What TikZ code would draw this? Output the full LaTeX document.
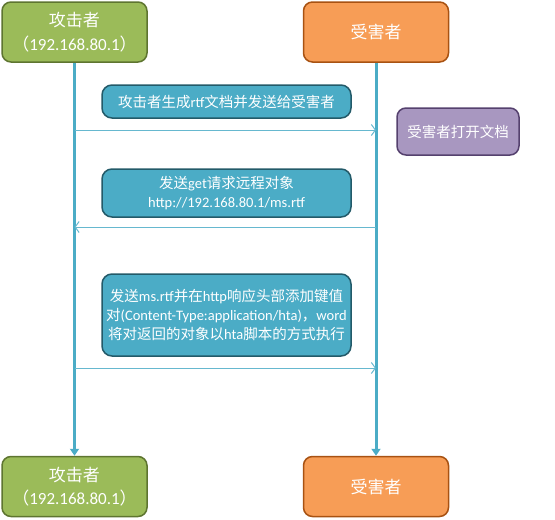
\documentclass[tikz,border=0pt]{standalone}
\usepackage{fontspec}
\setmainfont{Noto Sans CJK SC}
\newfontfamily\calfont{Carlito}
\usetikzlibrary{arrows.meta,positioning}
\definecolor{atkgreen}{RGB}{155,187,89}
\definecolor{atkborder}{RGB}{94,117,48}
\definecolor{vicorange}{RGB}{247,157,86}
\definecolor{vicborder}{RGB}{168,82,18}
\definecolor{msgteal}{RGB}{75,172,198}
\definecolor{msgborder}{RGB}{35,90,105}
\definecolor{openpurple}{RGB}{168,151,192}
\definecolor{openborder}{RGB}{85,65,110}
\tikzset{
  actorbox/.style={rectangle, rounded corners=9pt, line width=1.5pt, minimum width=145pt, minimum height=60pt, text=white, font=\fontsize{17}{23.6}\selectfont, align=center},
  msgbox/.style={rectangle, rounded corners=10pt, draw=msgborder, fill=msgteal, line width=1.5pt, minimum width=249pt, text=white, font=\fontsize{14.5}{18.7}\selectfont, align=center, inner sep=2pt},
  lifeline/.style={draw=msgteal, line width=3pt, -{Triangle[width=9pt,length=7pt]}},
  msgarrow/.style={draw=msgteal!85, line width=1pt, -{Straight Barb[length=4pt,width=11pt]}}
}
\begin{document}
\begin{tikzpicture}[x=1pt, y=-1pt]
\useasboundingbox (0,0) rectangle (555,520);
% Actors (top row)
\node[actorbox, draw=atkborder, fill=atkgreen] (atk) at (74.5,32) {攻击者\\（{\calfont 192.168.80.1}）};
\node[actorbox, draw=vicborder, fill=vicorange] (vic) at (376,32) {受害者};
% Actors (bottom row)
\node[actorbox, draw=atkborder, fill=atkgreen] (atkend) at (74.5,486.5) {攻击者\\（{\calfont 192.168.80.1}）};
\node[actorbox, draw=vicborder, fill=vicorange] (vicend) at (376,486.5) {受害者};
% Lifelines
\draw[lifeline] (atk.south) -- (atkend.north);
\draw[lifeline] (vic.south) -- (vicend.north);
% Messages
\node[msgbox, minimum height=33pt] (msg1) at (226.5,101.5) {攻击者生成{\calfont rtf}文档并发送给受害者};
\node[msgbox, minimum height=48pt] (msg2) at (226.5,193) {发送{\calfont get}请求远程对象\\{\calfont http://192.168.80.1/ms.rtf}};
\node[msgbox, minimum height=82pt] (msg3) at (226.5,315) {发送{\calfont ms.rtf}并在{\calfont http}响应头部添加键值\\对{\calfont (Content-Type:application/hta)}，{\calfont word}\\将对返回的对象以{\calfont hta}脚本的方式执行};
\node[rectangle, rounded corners=9pt, draw=openborder, fill=openpurple, line width=1.5pt, minimum width=122pt, minimum height=47pt, text=white, font=\fontsize{14.5}{18.7}\selectfont] (open) at (458,131.5) {受害者打开文档};
\coordinate (m1a) at (atk |- 0,130);
\coordinate (m1v) at (vic |- 0,130);
\coordinate (m2a) at (atk |- 0,227);
\coordinate (m2v) at (vic |- 0,227);
\coordinate (m3a) at (atk |- 0,368);
\coordinate (m3v) at (vic |- 0,368);
\draw[msgarrow] (m1a) -- (m1v);
\draw[msgarrow] (m2v) -- (m2a);
\draw[msgarrow] (m3a) -- (m3v);
\end{tikzpicture}
\end{document}
